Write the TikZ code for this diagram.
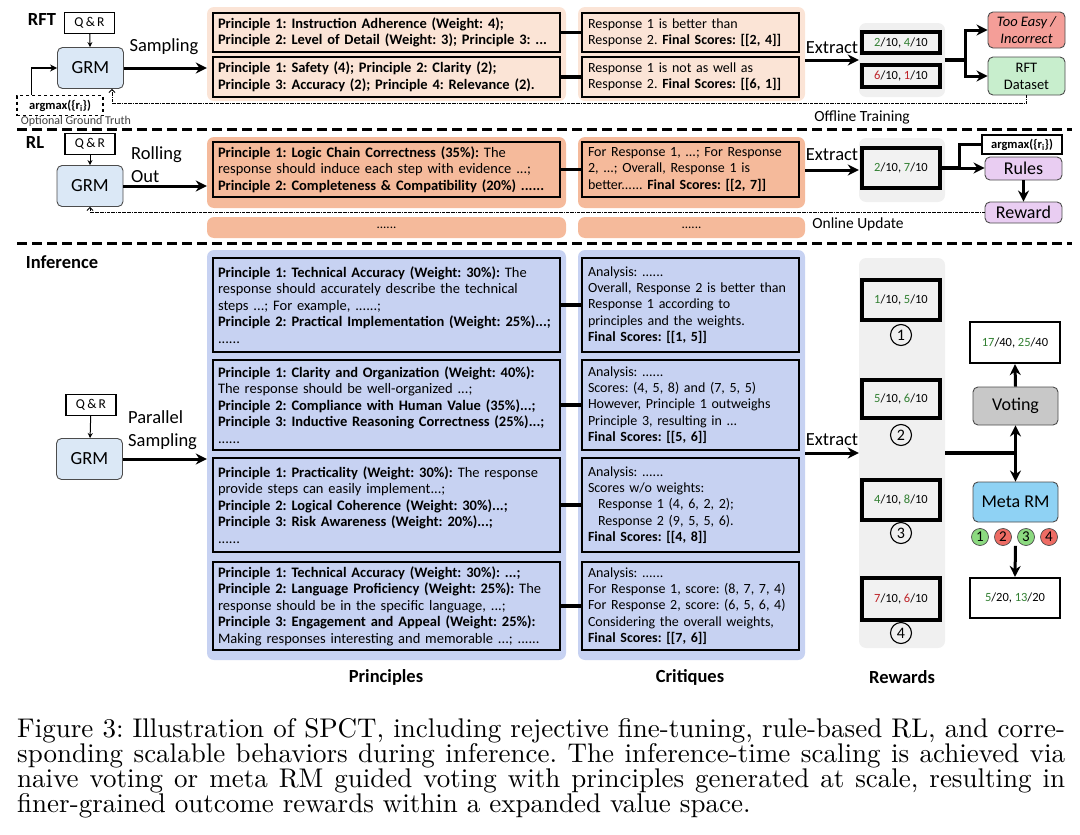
\documentclass[tikz,border=0pt]{standalone}
\usepackage{fontspec}
\setsansfont{Carlito}
\newfontfamily\capfont{lmroman10-regular.otf}
\usetikzlibrary{arrows.meta}

\definecolor{rftbg}{RGB}{251,228,214}
\definecolor{rlbg}{RGB}{245,186,155}
\definecolor{infbg}{RGB}{199,210,242}
\definecolor{greybg}{RGB}{240,240,240}
\definecolor{grmfill}{RGB}{219,232,246}
\definecolor{easyfill}{RGB}{244,158,152}
\definecolor{dsfill}{RGB}{200,238,205}
\definecolor{rulefill}{RGB}{233,205,242}
\definecolor{votefill}{RGB}{200,200,200}
\definecolor{metafill}{RGB}{143,210,244}
\definecolor{goodc}{RGB}{50,128,50}
\definecolor{badc}{RGB}{190,35,40}
\definecolor{okcirc}{RGB}{140,218,128}
\definecolor{nocirc}{RGB}{238,108,100}

\newcommand\pfont{\sffamily\fontsize{14.5}{16.5}\selectfont}
\newcommand\cfont{\sffamily\fontsize{14}{16.3}\selectfont}
\newcommand\gsc[1]{\textcolor{goodc}{#1}}
\newcommand\rsc[1]{\textcolor{badc}{#1}}
\frenchspacing

\begin{document}
\begin{tikzpicture}[x=1pt, y=-1pt,
	bgbox/.style={fill=#1, rounded corners=7pt, inner sep=0pt},
	pbox/.style={draw, line width=2pt, fill=#1, align=left, text width=337pt, inner xsep=5pt, inner ysep=1pt, font=\pfont},
	cbox/.style={pbox=#1, text width=205pt, inner xsep=6pt, font=\cfont},
	scorebox/.style={draw, line width=3.4pt, fill=black!5, minimum width=78pt, minimum height=#1, inner sep=0pt, font=\sffamily\fontsize{12.5}{12.5}\selectfont},
	resbox/.style={draw, line width=2.2pt, fill=white, minimum width=90pt, minimum height=#1, inner sep=0pt, font=\sffamily\fontsize{12.5}{12.5}\selectfont},
	model/.style={draw=black!70, line width=0.9pt, rounded corners=5pt, fill=#1, minimum width=66pt, minimum height=41pt, inner sep=0pt, font=\sffamily\fontsize{18.5}{18.5}\selectfont},
	qrbox/.style={draw, line width=1.2pt, minimum width=50pt, minimum height=21pt, inner sep=0pt, font=\sffamily\fontsize{13.5}{13.5}\selectfont},
	tagbox/.style={draw=black!70, line width=0.9pt, rounded corners=5pt, fill=#1, minimum width=77pt, inner sep=0pt, align=center, font=\sffamily\fontsize{14.5}{17}\selectfont},
	lbl/.style={font=\sffamily\fontsize{18.5}{23}\selectfont, inner sep=0pt},
	secname/.style={font=\sffamily\bfseries\fontsize{18.5}{18.5}\selectfont, inner sep=0pt},
	num/.style={circle, draw, line width=1.1pt, minimum size=21pt, inner sep=0pt, font=\sffamily\fontsize{16}{16}\selectfont},
	vote/.style={circle, draw=black!70, line width=0.7pt, fill=#1, minimum size=17pt, inner sep=0pt, font=\sffamily\fontsize{15}{15}\selectfont},
	arr/.style={-{Stealth[length=11pt,width=11pt]}, line width=3pt},
	midarr/.style={-{Stealth[length=7pt,width=7pt]}, line width=1.8pt},
	qrarr/.style={-{Stealth[length=5pt,width=5pt]}, line width=1pt},
	conn/.style={line width=3.2pt},
	dotline/.style={densely dash dot, line width=0.9pt, -{Straight Barb[length=3pt,width=6pt]}},
	divider/.style={line width=3pt, dash pattern=on 10pt off 5pt}]

\useasboundingbox (0,0) rectangle (1080,835);

% ---------------- RFT ----------------
\node[secname] (rftlab) at (42,20) {RFT};
\node[qrbox] (qr1) at (89.5,23) {Q\,\&\,R};
\node[model=grmfill] (grm1) at (90.5,68) {GRM};
\node[draw, dashed, line width=1.2pt, minimum width=86pt, minimum height=20pt, inner sep=0pt, font=\sffamily\bfseries\fontsize{12.5}{12.5}\selectfont] (am1) at (60,105.5) {argmax(\{r\textsubscript{i}\})};
\node[font=\sffamily\fontsize{12}{12}\selectfont, text=black!75, inner sep=0pt] (ogt) at (76,121.5) {Optional Ground Truth};
\node[lbl] (samp) at (164,47) {Sampling};

\node[bgbox=rftbg, minimum width=359pt, minimum height=94pt] (rftP) at (386.5,54) {};
\node[bgbox=rftbg, minimum width=227pt, minimum height=94pt] (rftC) at (691.5,54) {};
\node[bgbox=greybg, minimum width=86pt, minimum height=74pt] (rftG) at (902,60) {};

\node[pbox=rftbg, minimum height=39pt] (rp1) at (386.5,32.5) {\textbf{Principle 1: Instruction Adherence (Weight: 4);}\\ \textbf{Principle 2: Level of Detail (Weight: 3); Principle 3: ...}};
\node[pbox=rftbg, minimum height=40pt] (rp2) at (386.5,77) {\textbf{Principle 1: Safety (4); Principle 2: Clarity (2);}\\ \textbf{Principle 3: Accuracy (2); Principle 4: Relevance (2).}};
\node[cbox=rftbg, minimum height=39pt] (rc1) at (690.5,32.5) {Response 1 is better than\\ Response 2. \textbf{Final Scores: [[2, 4]]}};
\node[cbox=rftbg, minimum height=40pt] (rc2) at (690.5,77) {Response 1 is not as well as\\ Response 2. \textbf{Final Scores: [[6, 1]]}};

\node[scorebox=21pt] (rs1) at (901,42.5) {\gsc{2}/10, \gsc{4}/10};
\node[scorebox=22pt] (rs2) at (901,76) {\rsc{6}/10, \rsc{1}/10};
\node[lbl] (ext1) at (832,48) {Extract};

\node[tagbox=easyfill, minimum height=36pt] (easy) at (1026.5,30) {\itshape Too Easy /\\ \itshape Incorrect};
\node[tagbox=dsfill, minimum height=38pt] (ds) at (1026.5,76) {RFT\\ Dataset};
\node[font=\sffamily\fontsize{15.5}{15.5}\selectfont, inner sep=0pt] (offl) at (862,117) {Offline Training};

\draw[qrarr] (qr1) -- (grm1);
\draw[arr] (grm1.east) -- (grm1.east -| rftP.west);
\draw[midarr] ([xshift=15pt]am1.north west) |- (grm1.west);
\draw[conn] (rp1.east) -- (rc1.west);
\draw[conn] (rp2.east) -- (rc2.west);
\draw[arr] (rftG.west -| rftC.east) -- (rftG.west);
\draw[conn] (rftG.east) -- ++(20,0) coordinate (fk1);
\draw[arr] (fk1) |- (easy.west);
\draw[arr] (fk1) |- (ds.west);
\coordinate (ofl) at (112,103);
\draw[dotline] (ds.south) |- (ofl) -- (ofl |- grm1.south);

\draw[divider] (17,129) -- (1072,129);

% ---------------- RL ----------------
\node[secname] (rllab) at (35,143) {RL};
\node[qrbox] (qr2) at (90,144) {Q\,\&\,R};
\node[model=grmfill] (grm2) at (90,186) {GRM};
\node[lbl, align=left, anchor=west] (roll) at (131,165) {Rolling\\Out};

\node[bgbox=rlbg, minimum width=359pt, minimum height=71pt] (rlP) at (386.5,172.5) {};
\node[bgbox=rlbg, minimum width=227pt, minimum height=71pt] (rlC) at (691.5,172.5) {};
\node[bgbox=greybg, minimum width=86pt, minimum height=64pt] (rlG) at (902,170) {};
\node[bgbox=rlbg, minimum width=359pt, minimum height=21pt, font=\sffamily\fontsize{13}{13}\selectfont] (rlD1) at (386.5,227.5) {......};
\node[bgbox=rlbg, minimum width=227pt, minimum height=21pt, font=\sffamily\fontsize{13}{13}\selectfont] (rlD2) at (691.5,227.5) {......};

\node[pbox=rlbg, minimum height=55pt] (lp) at (386.5,169.5) {\textbf{Principle 1: Logic Chain Correctness (35\%):} The\\ response should induce each step with evidence ...;\\ \textbf{Principle 2: Completeness \& Compatibility (20\%) ......}};
\node[cbox=rlbg, minimum height=55pt] (lc) at (690.5,169.5) {For Response 1, ...; For Response\\ 2, ...; Overall, Response 1 is\\ better...... \textbf{Final Scores: [[2, 7]]}};
\node[scorebox=40pt] (ls) at (901,168) {\gsc{2}/10, \gsc{7}/10};
\node[lbl] (ext2) at (832,155) {Extract};

\node[draw, line width=1.4pt, fill=white, minimum width=80pt, minimum height=19pt, inner sep=0pt, font=\sffamily\bfseries\fontsize{12.5}{12.5}\selectfont] (am2) at (1022,144.5) {argmax(\{r\textsubscript{i}\})};
\node[tagbox=rulefill, minimum height=23pt, font=\sffamily\fontsize{18}{18}\selectfont] (rules) at (1023.5,168.5) {Rules};
\node[tagbox=rulefill, minimum height=21pt, font=\sffamily\fontsize{18}{18}\selectfont] (reward) at (1023.5,212.5) {Reward};
\node[font=\sffamily\fontsize{15.5}{15.5}\selectfont, inner sep=0pt] (onl) at (858,224) {Online Update};

\draw[qrarr] (qr2) -- (grm2);
\draw[arr] (grm2.east) -- (grm2.east -| rlP.west);
\draw[conn] (lp.east) -- (lc.west);
\draw[arr] (rlG.west -| rlC.east) -- (rlG.west);
\draw[conn] (ls.east) -- ++(18,0) coordinate (fk2);
\draw[arr] (fk2) -- (fk2 -| rules.west);
\draw[conn] (fk2) |- (am2.west);
\draw[arr] (rules) -- (reward);
\draw[dotline] (reward.west) -| (grm2.south);

\draw[divider] (17,243) -- (1072,243);

% ---------------- Inference ----------------
\node[secname] (inflab) at (62,262) {Inference};
\node[qrbox] (qr3) at (91,405) {Q\,\&\,R};
\node[model=grmfill] (grm3) at (89.5,459) {GRM};
\node[lbl, align=left, anchor=west] (par) at (128,430) {Parallel\\Sampling};

\node[bgbox=infbg, minimum width=359pt, minimum height=410pt] (infP) at (386.5,455) {};
\node[bgbox=infbg, minimum width=227pt, minimum height=410pt] (infC) at (691.5,455) {};
\node[bgbox=greybg, minimum width=86pt, minimum height=390pt] (infG) at (902,453) {};

\node[pbox=infbg, minimum height=94pt] (ip1) at (386.5,305) {\textbf{Principle 1: Technical Accuracy (Weight: 30\%):} The\\ response should accurately describe the technical\\ steps ...; For example, ......;\\ \textbf{Principle 2: Practical Implementation (Weight: 25\%)...;}\\ ......};
\node[pbox=infbg, minimum height=90pt] (ip2) at (386.5,405) {\textbf{Principle 1: Clarity and Organization (Weight: 40\%):}\\ The response should be well-organized ...;\\ \textbf{Principle 2: Compliance with Human Value (35\%)...;}\\ \textbf{Principle 3: Inductive Reasoning Correctness (25\%)...;}\\ ......};
\node[pbox=infbg, minimum height=94pt] (ip3) at (386.5,505) {\textbf{Principle 1: Practicality (Weight: 30\%):} The response\\ provide steps can easily implement...;\\ \textbf{Principle 2: Logical Coherence (Weight: 30\%)...;}\\ \textbf{Principle 3: Risk Awareness (Weight: 20\%)...;}\\ ......};
\node[pbox=infbg, minimum height=88pt] (ip4) at (386.5,606) {\textbf{Principle 1: Technical Accuracy (Weight: 30\%): ...;}\\ \textbf{Principle 2: Language Proficiency (Weight: 25\%):} The\\ response should be in the specific language, ...;\\ \textbf{Principle 3: Engagement and Appeal (Weight: 25\%):}\\ Making responses interesting and memorable ...; ......};

\node[cbox=infbg, minimum height=94pt] (ic1) at (690.5,305) {Analysis: ......\\ Overall, Response 2 is better than\\ Response 1 according to\\ principles and the weights.\\ \textbf{Final Scores: [[1, 5]]}};
\node[cbox=infbg, minimum height=90pt] (ic2) at (690.5,405) {Analysis: ......\\ Scores: (4, 5, 8) and (7, 5, 5)\\ However, Principle 1 outweighs\\ Principle 3, resulting in ...\\ \textbf{Final Scores: [[5, 6]]}};
\node[cbox=infbg, minimum height=94pt] (ic3) at (690.5,505) {Analysis: ......\\ Scores w/o weights:\\ \hspace*{10pt}Response 1 (4, 6, 2, 2);\\ \hspace*{10pt}Response 2 (9, 5, 5, 6).\\ \textbf{Final Scores: [[4, 8]]}};
\node[cbox=infbg, minimum height=88pt] (ic4) at (690.5,606) {Analysis: ......\\ For Response 1, score: (8, 7, 7, 4)\\ For Response 2, score: (6, 5, 6, 4)\\ Considering the overall weights,\\ \textbf{Final Scores: [[7, 6]]}};

\node[scorebox=40pt] (is1) at (901,300) {\gsc{1}/10, \gsc{5}/10};
\node[scorebox=38pt] (is2) at (901,399) {\gsc{5}/10, \gsc{6}/10};
\node[scorebox=40pt] (is3) at (901,500) {\gsc{4}/10, \gsc{8}/10};
\node[scorebox=42pt] (is4) at (901,599) {\rsc{7}/10, \rsc{6}/10};
\node[num] (n1) at (901,335) {1};
\node[num] (n2) at (901,435) {2};
\node[num] (n3) at (901,533) {3};
\node[num] (n4) at (901,633) {4};
\node[lbl] (ext3) at (832,440) {Extract};

\node[resbox=41pt] (res1) at (1015,342.5) {\gsc{17}/40, \gsc{25}/40};
\node[model=votefill, minimum width=85pt, minimum height=38pt, font=\sffamily\fontsize{18}{18}\selectfont] (voting) at (1015.5,406) {Voting};
\node[model=metafill, minimum width=85pt, minimum height=40pt, font=\sffamily\fontsize{18}{18}\selectfont] (meta) at (1015.5,502) {Meta RM};
\node[vote=okcirc] (v1) at (980,537) {1};
\node[vote=nocirc] (v2) at (1003,537) {2};
\node[vote=okcirc] (v3) at (1026,537) {3};
\node[vote=nocirc] (v4) at (1049,537) {4};
\node[resbox=40pt] (res2) at (1015,598) {\gsc{5}/20, \gsc{13}/20};

\node[secname] (lp1) at (386,677) {Principles};
\node[secname] (lc1) at (690,677) {Critiques};
\node[secname] (lr1) at (902,677) {Rewards};

\draw[qrarr] (qr3) -- (grm3);
\draw[arr] (grm3.east) -- (grm3.east -| infP.west);
\foreach \k in {1,...,4}
	\draw[conn] (ip\k.east) -- (ic\k.west);
\draw[arr] (infG.west -| infC.east) -- (infG.west);
\coordinate (fk3) at (infG.east -| voting.south);
\draw[conn] (infG.east) -- (fk3);
\draw[arr] (fk3) -- (voting.south);
\draw[arr] (fk3) -- (meta.north);
\draw[arr] (voting.north) -- (res1.south);
\draw[arr] (meta.south |- v2.south) -- (res2.north);

% caption
\node[anchor=north west, inner sep=0pt, text width=1048pt, align=justify, font=\capfont\fontsize{27}{24.3}\selectfont] (cap) at (17,718) {\tolerance=10000\hyphenpenalty=10000\exhyphenpenalty=10000\lineskiplimit=-20pt Figure 3: Illustration of SPCT, including rejective fine-tuning, rule-based RL, and corre-\linebreak sponding scalable behaviors during inference. The inference-time scaling is achieved via\linebreak naive voting or meta RM guided voting with principles generated at scale, resulting in\linebreak finer-grained outcome rewards within a expanded value space.};
\end{tikzpicture}
\end{document}
